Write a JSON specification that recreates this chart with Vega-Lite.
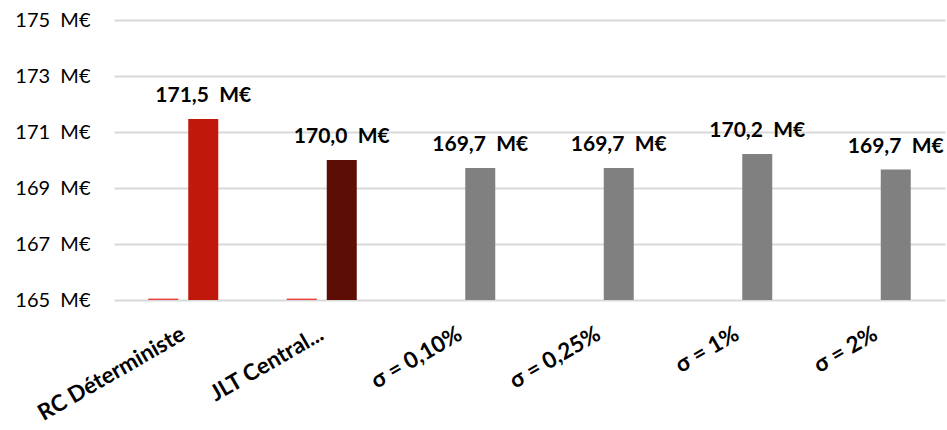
{
  "$schema": "https://vega.github.io/schema/vega-lite/v6.json",
  "width": 831,
  "height": 280,
  "autosize": {"type": "none"},
  "padding": {"left": 114, "top": 20, "right": 2, "bottom": 130},
  "background": "white",
  "config": {
    "view": {"stroke": null},
    "font": "Lato",
    "locale": {"number": {"decimal": ",", "thousands": " ", "grouping": [3], "currency": ["", "\u00a0\u00a0M€"]}}
  },
  "data": {
    "values": [
      {"cat": "RC Déterministe", "series": "a", "kind": "ligne", "value": 165.05},
      {"cat": "RC Déterministe", "series": "b", "kind": "RC", "value": 171.46},
      {"cat": "JLT Central...", "series": "a", "kind": "ligne", "value": 165.05},
      {"cat": "JLT Central...", "series": "b", "kind": "JLT", "value": 170.0},
      {"cat": "σ = 0,10%", "series": "b", "kind": "sigma", "value": 169.71},
      {"cat": "σ = 0,25%", "series": "b", "kind": "sigma", "value": 169.71},
      {"cat": "σ = 1%", "series": "b", "kind": "sigma", "value": 170.21},
      {"cat": "σ = 2%", "series": "b", "kind": "sigma", "value": 169.66}
    ]
  },
  "encoding": {
    "x": {
      "field": "cat", "type": "nominal", "sort": null, "title": null,
      "scale": {"paddingInner": 0, "paddingOuter": 0},
      "axis": {
        "labelAngle": -30, "labelAlign": "right", "labelBaseline": "middle",
        "labelFontSize": 22.5, "labelFontWeight": "bold", "labelColor": "#000000",
        "labelLimit": 0, "labelPadding": 32, "labelDx": -10, "ticks": false, "domain": false, "grid": false
      }
    },
    "xOffset": {
      "field": "series", "type": "nominal",
      "scale": {"domain": ["a", "b"], "paddingInner": 0.25, "paddingOuter": 0.856}
    },
    "y": {
      "field": "value", "type": "quantitative", "title": null,
      "scale": {"domain": [165, 175], "zero": false, "nice": false},
      "axis": {
        "values": [165, 167, 169, 171, 173, 175],
        "labelExpr": "datum.value + '\u00a0\u00a0M€'",
        "labelFontSize": 20, "labelColor": "#000000", "labelPadding": 24,
        "ticks": false, "domain": false,
        "gridColor": "#D9D9D9", "gridWidth": 2
      }
    }
  },
  "layer": [
    {
      "mark": {"type": "bar", "clip": true},
      "encoding": {
        "y2": {"datum": 165},
        "color": {
          "field": "kind", "type": "nominal", "legend": null,
          "scale": {"domain": ["ligne", "RC", "JLT", "sigma"], "range": ["#E8413C", "#C0180A", "#5C0D04", "#808080"]}
        }
      }
    },
    {
      "transform": [{"filter": "datum.series == 'b'"}],
      "mark": {"type": "text", "baseline": "bottom", "dy": -13, "fontSize": 21, "fontWeight": "bold", "color": "#000000"},
      "encoding": {
        "text": {"field": "value", "type": "quantitative", "format": "$.1f"}
      }
    }
  ]
}
